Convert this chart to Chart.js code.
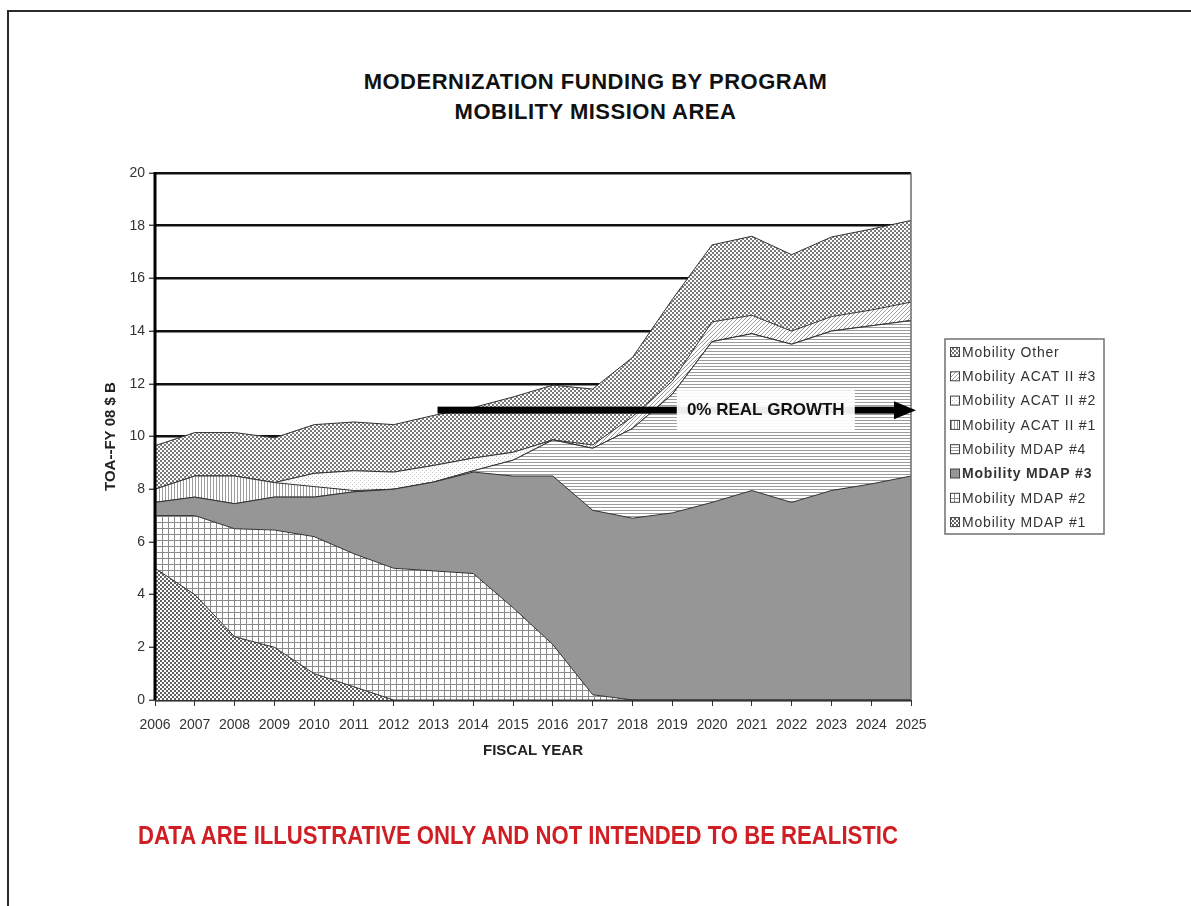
<!DOCTYPE html>
<html>
<head>
<meta charset="utf-8">
<title>Modernization Funding by Program</title>
<script src="https://cdn.jsdelivr.net/npm/chart.js@4.4.1/dist/chart.umd.min.js"></script>
<style>
  html, body { margin: 0; padding: 0; background: #fff; }
  body { width: 1191px; height: 906px; position: relative; overflow: hidden;
         font-family: "Liberation Sans", Arial, sans-serif; }
  #frame { position: absolute; left: 7px; top: 10px; width: 1200px; height: 1000px;
           border: 2px solid #2b2b2b; }
  #chart { position: absolute; left: 0; top: 0; }
  .title { position: absolute; left: 0; width: 1191px; text-align: center;
           font-weight: bold; font-size: 22px; letter-spacing: 0.5px; color: #111; }
  #note { position: absolute; left: 138px; top: 821px; font-weight: bold; font-size: 25px;
          color: #cf1f25; transform-origin: 0 0; white-space: nowrap; }
</style>
</head>
<body>
<div id="frame"></div>
<div class="title" style="top:69px">MODERNIZATION FUNDING BY PROGRAM</div>
<div class="title" style="top:99px">MOBILITY MISSION AREA</div>
<canvas id="chart" width="1191" height="906"></canvas>
<div id="note">DATA ARE ILLUSTRATIVE ONLY AND NOT INTENDED TO BE REALISTIC</div>

<script>
const FONT = '"Liberation Sans", Arial, sans-serif';

const years = ['2006', '2007', '2008', '2009', '2010', '2011', '2012', '2013', '2014', '2015',
               '2016', '2017', '2018', '2019', '2020', '2021', '2022', '2023', '2024', '2025'];

// funding per program, FY08 $B (stacked bottom to top)
const mdap1 = [5.0, 4.0, 2.4, 2.0, 1.0, 0.5, 0, 0, 0, 0, 0, 0, 0, 0, 0, 0, 0, 0, 0, 0];
const mdap2 = [2.0, 3.0, 4.1, 4.45, 5.2, 5.05, 5.0, 4.9, 4.8, 3.5, 2.1, 0.2, 0, 0, 0, 0, 0, 0, 0, 0];
const mdap3 = [0.5, 0.7, 0.95, 1.25, 1.5, 2.35, 3.0, 3.37, 3.85, 5.0, 6.4, 7.0, 6.9, 7.1, 7.5, 7.95, 7.5, 7.95, 8.2, 8.5];
const mdap4 = [0, 0, 0, 0, 0, 0, 0, 0, 0.05, 0.6, 1.37, 2.35, 3.4, 4.5, 6.1, 5.95, 6.0, 6.05, 6.0, 5.9];
const acat1 = [0.5, 0.8, 1.05, 0.55, 0.4, 0.05, 0, 0, 0, 0, 0, 0, 0, 0, 0, 0, 0, 0, 0, 0];
const acat2 = [0, 0, 0, 0, 0.5, 0.75, 0.65, 0.63, 0.48, 0.3, 0, 0, 0, 0, 0, 0, 0, 0, 0, 0];
const acat3 = [0, 0, 0, 0, 0, 0, 0, 0, 0, 0, 0, 0.13, 0.45, 0.5, 0.75, 0.7, 0.5, 0.55, 0.6, 0.7];
const other = [1.65, 1.65, 1.65, 1.7, 1.85, 1.85, 1.8, 1.9, 1.92, 2.1, 2.08, 2.12, 2.25, 3.1, 2.92, 3.0, 2.9, 3.02, 3.07, 3.1];

const yTicks = [0, 2, 4, 6, 8, 10, 12, 14, 16, 18, 20];

// flat "0% real growth" marker
const growthLevel = 11;
const growthFrom = 2013.1;
const growthLabelAt = 2021.35;

function hatch(size, paint) {
    const c = document.createElement('canvas');
    c.width = size;
    c.height = size;
    const g = c.getContext('2d');
    g.fillStyle = '#ffffff';
    g.fillRect(0, 0, size, size);
    paint(g, size);
    return g.createPattern(c, 'repeat');
}

const fills = {
    checkerDark: hatch(4, g => { g.fillStyle = '#626262'; g.fillRect(0, 0, 2, 2); g.fillRect(2, 2, 2, 2); }),
    grid: hatch(6, (g, s) => { g.fillStyle = '#8a8a8a'; g.fillRect(0, 0, s, 1); g.fillRect(0, 0, 1, s); }),
    solid: '#969696',
    hLines: hatch(3, (g, s) => { g.fillStyle = '#9c9c9c'; g.fillRect(0, 0, s, 1); }),
    vLines: hatch(3, (g, s) => { g.fillStyle = '#9c9c9c'; g.fillRect(0, 0, 1, s); }),
    dots: hatch(4, g => { g.fillStyle = '#c4c4c4'; g.fillRect(0, 0, 1, 1); g.fillRect(2, 2, 1, 1); }),
    diag: hatch(4, g => { g.fillStyle = '#9c9c9c'; for (let i = 0; i < 4; i++) g.fillRect(i, 3 - i, 1, 1); }),
    checker: hatch(4, g => { g.fillStyle = '#7a7a7a'; g.fillRect(0, 0, 2, 2); g.fillRect(2, 2, 2, 2); })
};

const series = [
    { label: 'Mobility MDAP #1', data: mdap1, fill: fills.checkerDark },
    { label: 'Mobility MDAP #2', data: mdap2, fill: fills.grid },
    { label: 'Mobility MDAP #3', data: mdap3, fill: fills.solid, bold: true },
    { label: 'Mobility MDAP #4', data: mdap4, fill: fills.hLines },
    { label: 'Mobility ACAT II #1', data: acat1, fill: fills.vLines },
    { label: 'Mobility ACAT II #2', data: acat2, fill: fills.dots },
    { label: 'Mobility ACAT II #3', data: acat3, fill: fills.diag },
    { label: 'Mobility Other', data: other, fill: fills.checker }
];

// axis lines, growth arrow and the boxed legend on the right
const overlay = {
    id: 'overlay',
    afterDatasetsDraw(chart) {
        const { ctx, chartArea: a, scales: { x, y } } = chart;
        const first = Number(years[0]);
        ctx.save();

        ctx.strokeStyle = '#6b6b6b';
        ctx.lineWidth = 1.5;
        ctx.beginPath(); ctx.moveTo(a.right, a.top); ctx.lineTo(a.right, a.bottom); ctx.stroke();

        ctx.strokeStyle = '#333';
        ctx.lineWidth = 1;
        ctx.beginPath(); ctx.moveTo(a.left, a.bottom + 0.5); ctx.lineTo(a.right, a.bottom + 0.5); ctx.stroke();

        ctx.strokeStyle = '#000';
        ctx.lineWidth = 3;
        ctx.beginPath(); ctx.moveTo(a.left, a.top - 1); ctx.lineTo(a.left, a.bottom); ctx.stroke();

        const gy = y.getPixelForValue(growthLevel);
        const gx0 = x.getPixelForValue(growthFrom - first);
        const tip = a.right + 5;
        ctx.fillStyle = '#000';
        ctx.fillRect(gx0, gy - 3.5, tip - 20 - gx0, 7);
        ctx.beginPath();
        ctx.moveTo(tip - 22, gy - 9);
        ctx.lineTo(tip, gy);
        ctx.lineTo(tip - 22, gy + 9);
        ctx.closePath();
        ctx.fill();

        const cx = x.getPixelForValue(growthLabelAt - first);
        ctx.fillStyle = 'rgba(255,255,255,0.93)';
        ctx.fillRect(cx - 89, gy - 20, 178, 40);
        ctx.fillStyle = '#111';
        ctx.font = 'bold 17px ' + FONT;
        ctx.textAlign = 'center';
        ctx.textBaseline = 'middle';
        ctx.fillText('0% REAL GROWTH', cx, gy);

        ctx.restore();
    },
    afterDraw(chart) {
        const { ctx, chartArea: a } = chart;
        const left = a.right + 34, top = 339, w = 159, h = 195;
        const row0 = 352, step = 24.3;
        ctx.save();
        ctx.fillStyle = '#fff';
        ctx.fillRect(left, top, w, h);
        ctx.strokeStyle = '#707070';
        ctx.lineWidth = 1.5;
        ctx.strokeRect(left, top, w, h);

        const items = chart.data.datasets.slice().reverse();
        items.forEach((ds, i) => {
            const cy = row0 + i * step;
            ctx.fillStyle = ds.backgroundColor;
            ctx.fillRect(left + 5, cy - 4.5, 9, 9);
            ctx.strokeStyle = '#444';
            ctx.lineWidth = 1;
            ctx.strokeRect(left + 5.5, cy - 4.5, 9, 9);
            ctx.fillStyle = '#333';
            ctx.font = (ds.boldLabel ? 'bold ' : '') + '14px ' + FONT;
            ctx.letterSpacing = '0.8px';
            ctx.textAlign = 'left';
            ctx.textBaseline = 'middle';
            ctx.fillText(ds.label, left + 17, cy + 1);
        });
        ctx.restore();
    }
};

Chart.defaults.font.family = FONT;

new Chart(document.getElementById('chart'), {
    type: 'line',
    data: {
        labels: years,
        datasets: series.map((s, i) => ({
            label: s.label,
            data: s.data,
            boldLabel: !!s.bold,
            backgroundColor: s.fill,
            borderColor: '#333',
            borderWidth: 1,
            pointRadius: 0,
            tension: 0,
            fill: i === 0 ? 'origin' : '-1'
        }))
    },
    options: {
        responsive: false,
        animation: false,
        layout: { padding: { left: 98, right: 280, top: 173, bottom: 142 } },
        plugins: {
            legend: { display: false },
            tooltip: { enabled: false },
            title: { display: false }
        },
        scales: {
            x: {
                offset: false,
                grid: { drawOnChartArea: false, tickLength: 6, color: '#333', tickWidth: 1 },
                border: { display: false },
                ticks: { autoSkip: false, maxRotation: 0, color: '#333', font: { size: 14 }, padding: 11 },
                title: {
                    display: true, text: 'FISCAL YEAR', color: '#222',
                    font: { size: 15, weight: 'bold' }, padding: { top: 4, bottom: 4 }
                },
                afterFit: s => { s.height = 64; }
            },
            y: {
                stacked: true,
                min: yTicks[0],
                max: yTicks[yTicks.length - 1],
                afterBuildTicks: s => { s.ticks = yTicks.map(v => ({ value: v })); },
                ticks: { color: '#333', font: { size: 14 }, padding: 4 },
                grid: { color: '#111', lineWidth: 2.5, tickLength: 6, tickColor: '#222', tickWidth: 1.2 },
                border: { display: false },
                title: {
                    display: true, text: 'TOA--FY 08 $ B', color: '#222',
                    font: { size: 15, weight: 'bold' }, padding: { top: 4, bottom: 4 }
                },
                afterFit: s => { s.width = 57; }
            }
        }
    },
    plugins: [overlay]
});

// squeeze the disclaimer to its printed width
const note = document.getElementById('note');
note.style.transform = 'scaleX(' + (760 / note.getBoundingClientRect().width) + ')';
</script>
</body>
</html>
